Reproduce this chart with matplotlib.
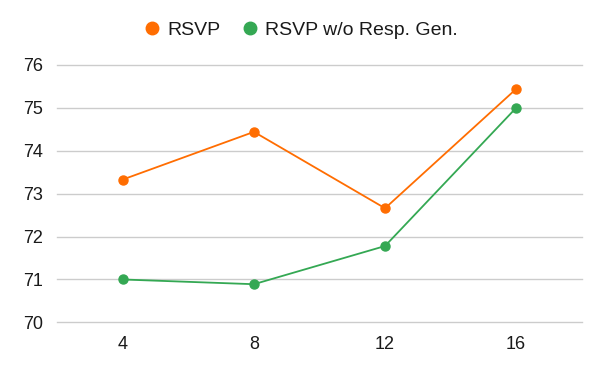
import matplotlib.pyplot as plt
from matplotlib.lines import Line2D

plt.rcParams['font.family'] = ['Liberation Sans', 'DejaVu Sans']

# Datos
x_vals = [4, 8, 12, 16]
rsvp = [73.33, 74.44, 72.66, 75.44]
rsvp_sin_gen = [71.0, 70.89, 71.78, 75.0]
y_ticks = [70, 71, 72, 73, 74, 75, 76]

naranja = '#FF6D01'
verde = '#34A853'

fig = plt.figure(figsize=(6, 3.71), dpi=100)
ax = fig.add_axes([0.0955, 0.131, 0.874, 0.694])

ax.plot(x_vals, rsvp, marker='o', color=naranja, linewidth=1.3, markersize=6.5, zorder=3)
ax.plot(x_vals, rsvp_sin_gen, marker='o', color=verde, linewidth=1.3, markersize=6.5, zorder=3)

ax.set_xlim(2, 18)
ax.set_ylim(70, 76)
ax.set_xticks(x_vals)
ax.set_yticks(y_ticks)
ax.grid(axis='y', color='#cccccc', linewidth=1)
for g in ax.get_ygridlines():
    g.set_clip_on(False)
ax.set_axisbelow(True)
for s in ax.spines.values():
    s.set_visible(False)
ax.tick_params(length=0, labelsize=13, colors='#1a1a1a')
ax.tick_params(axis='y', pad=10)
ax.tick_params(axis='x', pad=10)

handles = [
    Line2D([], [], marker='o', linestyle='', color=naranja, markersize=9),
    Line2D([], [], marker='o', linestyle='', color=verde, markersize=9),
]
fig.legend(handles, ['RSVP', 'RSVP w/o Resp. Gen.'], loc='center', bbox_to_anchor=(0.5, 0.918),
           ncol=2, frameon=False, fontsize=14, handletextpad=0.3, columnspacing=1.0,
           handlelength=1.0, labelcolor='#1a1a1a')

fig.savefig('out.png', dpi=100)
